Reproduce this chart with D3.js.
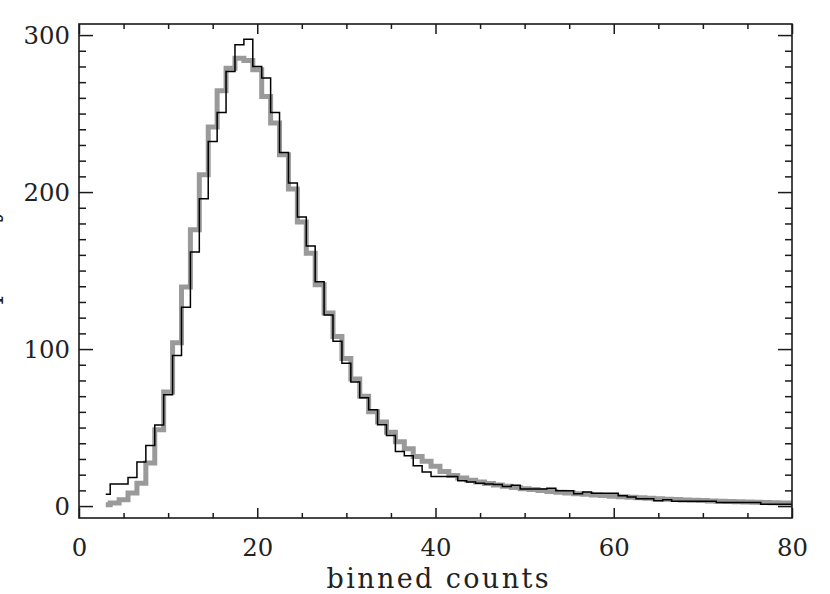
<!DOCTYPE html>
<html>
<head>
<meta charset="utf-8">
<script src="https://cdn.jsdelivr.net/npm/d3@7"></script>
<style>
  html, body { margin: 0; padding: 0; background: #fff; }
  svg { display: block; }
  text { font-family: "DejaVu Serif", "Liberation Serif", serif; fill: #222; }
</style>
</head>
<body>
<div id="chart"></div>
<script>
// ---- data ----
const firstBin = 3;
const observed = [7.6, 14.0, 14.0, 18.2, 28.0, 38.6, 51.6, 70.9, 95.9, 126.7,
  161.8, 195.7, 232.2, 250.7, 276.8, 293.8, 297.4, 280.0, 272.6, 250.7,
  225.2, 205.7, 184.1, 165.6, 142.9, 121.7, 105, 91, 79, 69,
  61.4, 51.8, 45, 34.8, 32.1, 25.7, 21.7, 18.9, 18.9, 18.9,
  16.1, 15.3, 14.6, 14.0, 13.8, 12.5, 13.2, 10.9, 10.9, 10.9,
  11.3, 9.8, 9.8, 7.9, 8.9, 8.1, 8.1, 8.1, 6.6, 5.7,
  4.7, 4.7, 3.4, 4.0, 3.0, 3.0, 3.0, 3.0, 3.0, 2.3,
  2.3, 2.3, 2.3, 2.3, 1.2, 1.2, 1.2, 1.2];
const model = [0.8, 1.9, 4.0, 8.3, 14.6, 27.4, 48.6, 72.6, 104, 139.5,
  176, 211, 241.4, 264.5, 278.9, 285.3, 283.8, 277.9, 260.9, 244,
  223.8, 201.9, 181, 161, 141, 123, 108, 94, 81, 70,
  60, 53.5, 47, 41, 36.5, 31.6, 28.5, 25.3, 22, 19.5,
  17.8, 16.5, 15.3, 14.3, 13.4, 12.6, 11.8, 11.1, 10.5, 9.9,
  9.3, 8.8, 8.3, 7.9, 7.5, 7.1, 6.7, 6.3, 6.0, 5.6,
  5.3, 5.0, 4.7, 4.4, 4.2, 3.9, 3.7, 3.5, 3.3, 3.1,
  2.9, 2.8, 2.6, 2.4, 2.3, 2.1, 2.0, 1.9];
const xMajorTicks = [0, 20, 40, 60, 80];
const xMinorTicks = [5, 10, 15, 25, 30, 35, 45, 50, 55, 65, 70, 75];
const yMajorTicks = [0, 100, 200, 300];
const yMinorTicks = [10, 20, 30, 40, 50, 60, 70, 80, 90, 110, 120, 130, 140, 150, 160, 170, 180, 190,
  210, 220, 230, 240, 250, 260, 270, 280, 290];
const xTitle = "binned counts";
const yTitle = "frequency";

// ---- layout ----
const W = 830, H = 594;
const L = 79, R = 792, T = 24, B = 518;
const FONT = "'DejaVu Serif', 'Liberation Serif', serif";

const svg = d3.select("#chart").append("svg").attr("width", W).attr("height", H);

const x = d3.scaleLinear().domain([0, 80]).range([L, R]);
const y = d3.scaleLinear().domain([-7.6, 307.05]).range([B, T]);

svg.append("defs").append("clipPath").attr("id", "plotclip")
  .append("rect").attr("x", L).attr("y", T).attr("width", R - L).attr("height", B - T);

const line = d3.line().curve(d3.curveStep)
  .x((d, i) => x(firstBin + i))
  .y(d => y(d));

const g = svg.append("g").attr("clip-path", "url(#plotclip)");
g.append("path").datum(model).attr("d", line)
  .attr("fill", "none").attr("stroke", "#9a9a9a").attr("stroke-width", 5);
g.append("path").datum(observed).attr("d", line)
  .attr("fill", "none").attr("stroke", "#000").attr("stroke-width", 1.5);

// axes (ticks point inward)
function styleAxis(sel) {
  sel.select(".domain").remove();
  sel.selectAll(".tick line").attr("stroke", "#1a1a1a").attr("stroke-width", 1.5);
}
const xMaj = 10, xMin = 5, yMaj = 14, yMin = 7;

const bottom = svg.append("g").attr("transform", `translate(0,${B})`)
  .call(d3.axisBottom(x).tickValues(xMajorTicks).tickSize(-xMaj).tickPadding(18).tickFormat(d3.format("d")));
styleAxis(bottom);
svg.append("g").attr("transform", `translate(0,${B})`)
  .call(d3.axisBottom(x).tickValues(xMinorTicks).tickSize(-xMin).tickFormat("")).call(styleAxis);
svg.append("g").attr("transform", `translate(0,${T})`)
  .call(d3.axisTop(x).tickValues(xMajorTicks).tickSize(-xMaj).tickFormat("")).call(styleAxis);
svg.append("g").attr("transform", `translate(0,${T})`)
  .call(d3.axisTop(x).tickValues(xMinorTicks).tickSize(-xMin).tickFormat("")).call(styleAxis);

const left = svg.append("g").attr("transform", `translate(${L},0)`)
  .call(d3.axisLeft(y).tickValues(yMajorTicks).tickSize(-yMaj).tickPadding(9).tickFormat(d3.format("d")));
styleAxis(left);
svg.append("g").attr("transform", `translate(${L},0)`)
  .call(d3.axisLeft(y).tickValues(yMinorTicks).tickSize(-yMin).tickFormat("")).call(styleAxis);
svg.append("g").attr("transform", `translate(${R},0)`)
  .call(d3.axisRight(y).tickValues(yMajorTicks).tickSize(-yMaj).tickFormat("")).call(styleAxis);
svg.append("g").attr("transform", `translate(${R},0)`)
  .call(d3.axisRight(y).tickValues(yMinorTicks).tickSize(-yMin).tickFormat("")).call(styleAxis);

[bottom, left].forEach(a => {
  a.selectAll(".tick text")
    .attr("font-family", FONT)
    .attr("font-size", 24)
    .attr("fill", "#222")
    .each(function () {
      const t = d3.select(this);
      t.attr("textLength", t.text().length * 15.5).attr("lengthAdjust", "spacingAndGlyphs");
    });
});
bottom.selectAll(".tick text").attr("dy", null).attr("y", 38);
left.selectAll(".tick text").attr("x", -9).attr("dy", "0.36em");

// frame
svg.append("rect").attr("x", L).attr("y", T).attr("width", R - L).attr("height", B - T)
  .attr("fill", "none").attr("stroke", "#1a1a1a").attr("stroke-width", 1.6);

// axis titles
svg.append("text").attr("x", (L + R) / 2 + 2).attr("y", 588)
  .attr("text-anchor", "middle").attr("font-size", 27).attr("font-family", FONT)
  .attr("textLength", 222).attr("lengthAdjust", "spacing")
  .text(xTitle);
svg.append("text").attr("transform", `translate(-3,282) rotate(-90)`)
  .attr("text-anchor", "middle").attr("font-size", 27).attr("font-family", FONT)
  .attr("textLength", 150).attr("lengthAdjust", "spacing")
  .text(yTitle);
</script>
</body>
</html>
